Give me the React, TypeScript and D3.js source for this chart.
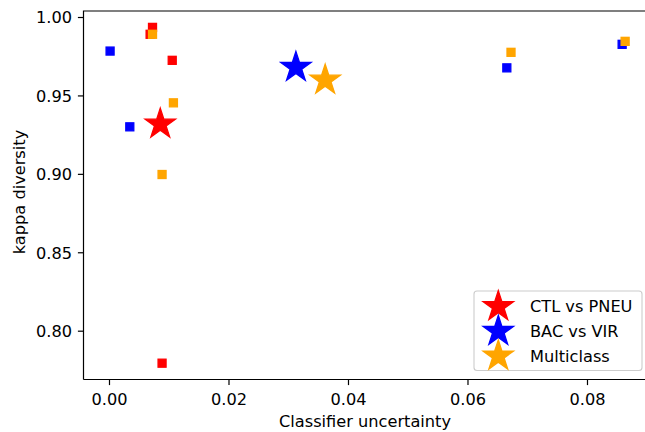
import React from "react";
import * as d3 from "d3";

const groups = ["CTL vs PNEU", "BAC vs VIR", "Multiclass"];
const colors = ["#ff0000", "#0000ff", "#ffa500"];

// per classifier values (uncertainty, kappa)
const ctlX = [0.0072, 0.0068, 0.0105, 0.0088];
const ctlY = [0.9937, 0.9893, 0.9727, 0.7796];
const bacX = [0.0001, 0.0034, 0.0665, 0.0858];
const bacY = [0.9786, 0.9303, 0.9679, 0.9829];
const multiX = [0.0072, 0.0107, 0.0088, 0.0672, 0.0863];
const multiY = [0.9893, 0.9456, 0.8999, 0.9778, 0.9848];

// mean point of each task (stars)
const starX = [0.0085, 0.0312, 0.0361];
const starY = [0.932, 0.9682, 0.9601];

const xDomain = [-0.00435, 0.09063];
const yDomain = [0.7692, 1.00415];

const W = 645, H = 432;
const left = 83.5, top = 11, right = 651, bottom = 379.5;
const fs = 16.2;

export default function App() {
  const x = d3.scaleLinear().domain(xDomain).range([left, right]);
  const y = d3.scaleLinear().domain(yDomain).range([bottom, top]);
  const xTicks = x.ticks(5);
  const yTicks = y.ticks(5);

  const star = d3.symbol(d3.symbolStar, (16 * 16) / 0.8908130915)();
  const sq = 8;

  const series = [
    { xs: ctlX, ys: ctlY },
    { xs: bacX, ys: bacY },
    { xs: multiX, ys: multiY },
  ];

  const rowY = [306.6, 331.3, 356];

  return (
    <svg width={W} height={H} style={{ position: "absolute", left: 0, top: 0 }}
      fontFamily="DejaVu Sans">
      <rect width={W} height={H} fill="#fff" />
      {series.map((s, i) => (
        <g key={i}>
          {s.xs.map((v, j) => (
            <rect key={j} x={x(v) - sq / 2} y={y(s.ys[j]) - sq / 2} width={sq} height={sq}
              fill={colors[i]} stroke={colors[i]} strokeWidth={1.3} />
          ))}
          <path d={star!} transform={`translate(${x(starX[i])},${y(starY[i])})`}
            fill={colors[i]} stroke={colors[i]} strokeWidth={1.3} />
        </g>
      ))}

      {/* spines */}
      <path d={`M${left},${bottom}V${top}H${right}M${left},${bottom}H${right}`}
        fill="none" stroke="#000" strokeWidth={1.2} />

      {xTicks.map((t) => (
        <g key={t}>
          <line x1={x(t)} x2={x(t)} y1={bottom} y2={bottom + 5.6} stroke="#000" strokeWidth={1.2} />
          <text x={x(t)} y={405} textAnchor="middle" fontSize={fs}>{t.toFixed(2)}</text>
        </g>
      ))}
      {yTicks.map((t) => (
        <g key={t}>
          <line x1={left - 5.6} x2={left} y1={y(t)} y2={y(t)} stroke="#000" strokeWidth={1.2} />
          <text x={72} y={y(t) + 5.9} textAnchor="end" fontSize={fs}>{t.toFixed(2)}</text>
        </g>
      ))}

      <text x={365} y={427} textAnchor="middle" fontSize={fs}>Classifier uncertainty</text>
      <text transform="translate(25,192) rotate(-90)" textAnchor="middle" fontSize={fs}>
        kappa diversity
      </text>

      {/* legend */}
      <rect x={474} y={291} width={168} height={79.5} rx={3} fill="#fff" fillOpacity={0.8}
        stroke="#cccccc" strokeWidth={1.1} />
      {groups.map((g, i) => (
        <g key={g}>
          <path d={star!} transform={`translate(498.3,${rowY[i]})`} fill={colors[i]}
            stroke={colors[i]} strokeWidth={1.3} />
          <text x={530} y={rowY[i] + 5.6} fontSize={fs}>{g}</text>
        </g>
      ))}
    </svg>
  );
}
